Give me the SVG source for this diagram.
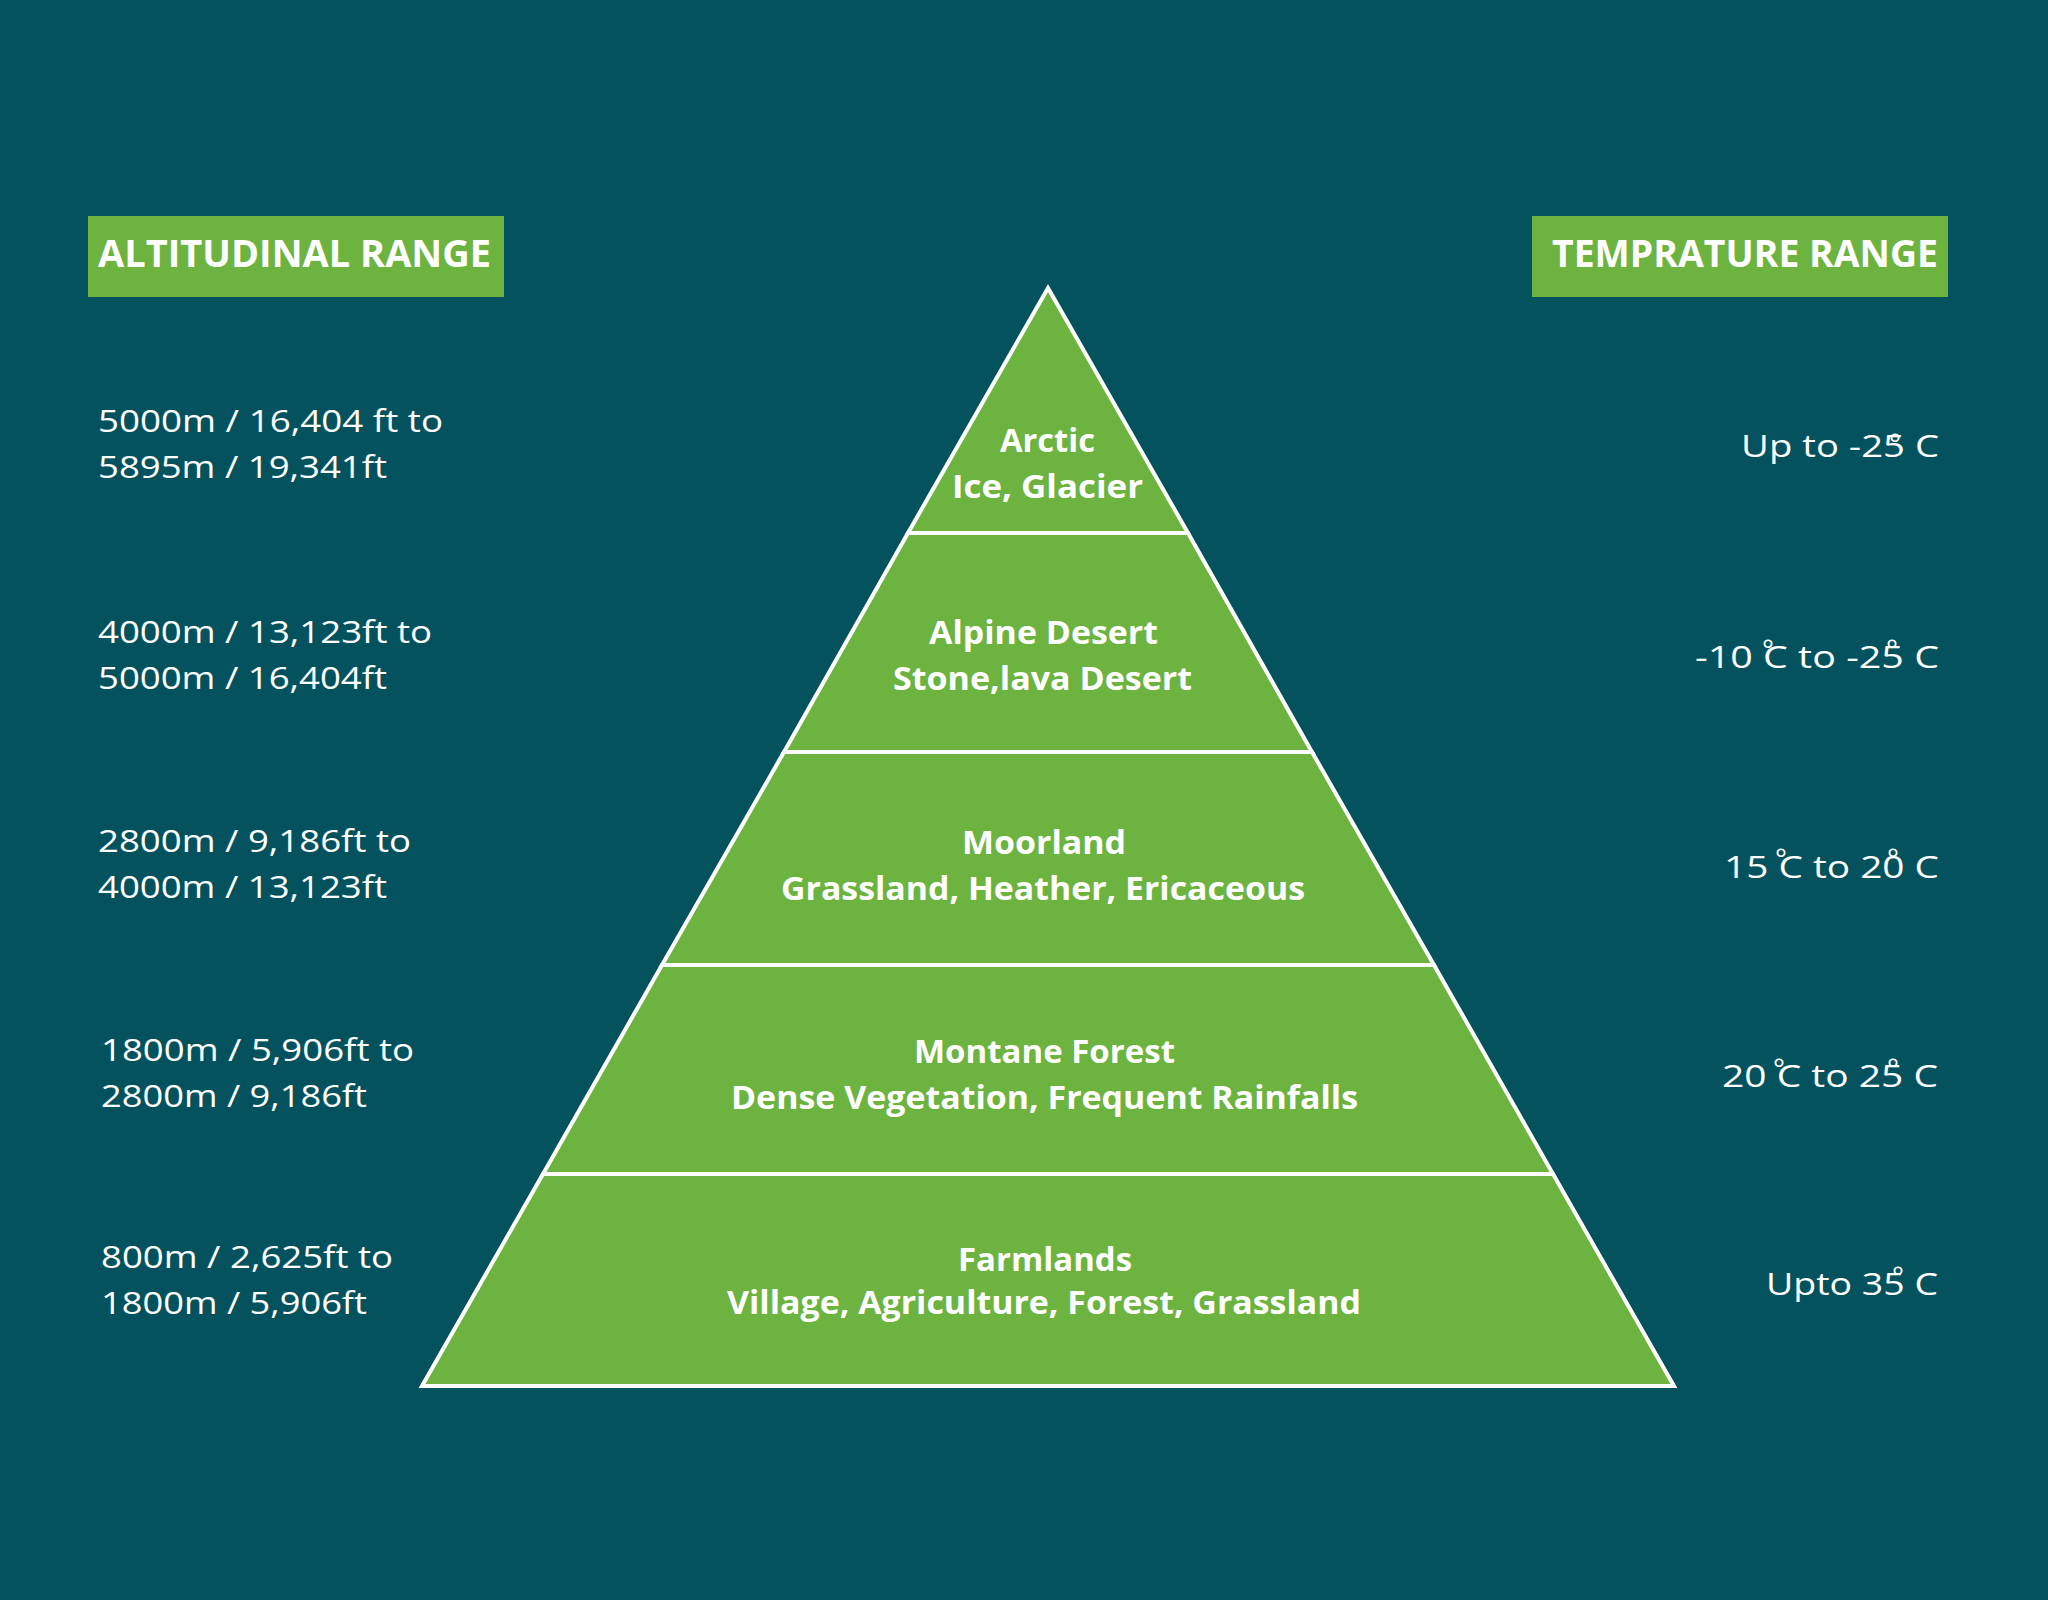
<svg xmlns="http://www.w3.org/2000/svg" width="2048" height="1600" viewBox="0 0 2048 1600">
<style>
.lbl{font-family:"Open Sans","Noto Sans","Liberation Sans",sans-serif;font-size:31px;fill:#ffffff}
.hdr{font-family:"Open Sans","Noto Sans","Liberation Sans",sans-serif;font-size:37px;font-weight:bold;fill:#ffffff}
.zone{font-family:"Open Sans","Noto Sans","Liberation Sans",sans-serif;font-size:32px;font-weight:bold;fill:#ffffff}
.seg{fill:#6cb33f;stroke:#ffffff;stroke-width:4;stroke-linejoin:miter}
.deg{font-family:"Open Sans","Noto Sans","Liberation Sans",sans-serif;font-size:28px;fill:#ffffff;text-anchor:middle}
</style>
<rect width="2048" height="1600" fill="#03525d"/>
<g id="header-altitude">
<rect x="88" y="216" width="416" height="81" fill="#6cb33f"/>
<text class="hdr" x="98" y="267" textLength="393" lengthAdjust="spacingAndGlyphs">ALTITUDINAL RANGE</text>
</g>
<g id="header-temperature">
<rect x="1532" y="216" width="416" height="81" fill="#6cb33f"/>
<text class="hdr" x="1552" y="267" textLength="386" lengthAdjust="spacingAndGlyphs">TEMPRATURE RANGE</text>
</g>
<g id="pyramid">
<g id="zone-arctic">
<polygon class="seg" points="1048,288 1188,533 908,533"/>
<text class="zone" x="1000" y="452" textLength="95" lengthAdjust="spacingAndGlyphs">Arctic</text>
<text class="zone" x="952" y="498" textLength="191" lengthAdjust="spacingAndGlyphs">Ice, Glacier</text>
</g>
<g id="zone-alpine">
<polygon class="seg" points="908,533 1188,533 1312,752 784,752"/>
<text class="zone" x="929" y="644" textLength="229" lengthAdjust="spacingAndGlyphs">Alpine Desert</text>
<text class="zone" x="893" y="690" textLength="299" lengthAdjust="spacingAndGlyphs">Stone,lava Desert</text>
</g>
<g id="zone-moorland">
<polygon class="seg" points="784,752 1312,752 1434,965 662,965"/>
<text class="zone" x="962" y="854" textLength="164" lengthAdjust="spacingAndGlyphs">Moorland</text>
<text class="zone" x="781" y="900" textLength="524" lengthAdjust="spacingAndGlyphs">Grassland, Heather, Ericaceous</text>
</g>
<g id="zone-montane">
<polygon class="seg" points="662,965 1434,965 1553,1174 543,1174"/>
<text class="zone" x="914" y="1063" textLength="261" lengthAdjust="spacingAndGlyphs">Montane Forest</text>
<text class="zone" x="731" y="1109" textLength="627" lengthAdjust="spacingAndGlyphs">Dense Vegetation, Frequent Rainfalls</text>
</g>
<g id="zone-farmlands">
<polygon class="seg" points="543,1174 1553,1174 1674,1386 422,1386"/>
<text class="zone" x="958" y="1271" textLength="174" lengthAdjust="spacingAndGlyphs">Farmlands</text>
<text class="zone" x="727" y="1314" textLength="634" lengthAdjust="spacingAndGlyphs">Village, Agriculture, Forest, Grassland</text>
</g>
</g>
<g id="altitudes">
<g id="alt-1"><text class="lbl" x="98" y="432" textLength="345" lengthAdjust="spacingAndGlyphs">5000m / 16,404 ft to</text><text class="lbl" x="98" y="478" textLength="289" lengthAdjust="spacingAndGlyphs">5895m / 19,341ft</text></g>
<g id="alt-2"><text class="lbl" x="98" y="643" textLength="334" lengthAdjust="spacingAndGlyphs">4000m / 13,123ft to</text><text class="lbl" x="98" y="689" textLength="289" lengthAdjust="spacingAndGlyphs">5000m / 16,404ft</text></g>
<g id="alt-3"><text class="lbl" x="98" y="852" textLength="313" lengthAdjust="spacingAndGlyphs">2800m / 9,186ft to</text><text class="lbl" x="98" y="898" textLength="289" lengthAdjust="spacingAndGlyphs">4000m / 13,123ft</text></g>
<g id="alt-4"><text class="lbl" x="101" y="1061" textLength="313" lengthAdjust="spacingAndGlyphs">1800m / 5,906ft to</text><text class="lbl" x="101" y="1107" textLength="266" lengthAdjust="spacingAndGlyphs">2800m / 9,186ft</text></g>
<g id="alt-5"><text class="lbl" x="101" y="1268" textLength="292" lengthAdjust="spacingAndGlyphs">800m / 2,625ft to</text><text class="lbl" x="101" y="1314" textLength="266" lengthAdjust="spacingAndGlyphs">1800m / 5,906ft</text></g>
</g>
<g id="temperatures">
<g id="temp-1"><text class="lbl" x="1741" y="457" textLength="198" lengthAdjust="spacingAndGlyphs">Up to -25 C</text><text class="deg" x="1895" y="454">°</text></g>
<g id="temp-2"><text class="lbl" x="1695" y="668" textLength="244" lengthAdjust="spacingAndGlyphs">-10 C to -25 C</text><text class="deg" x="1768" y="660">°</text><text class="deg" x="1892" y="660">°</text></g>
<g id="temp-3"><text class="lbl" x="1724" y="878" textLength="215" lengthAdjust="spacingAndGlyphs">15 C to 20 C</text><text class="deg" x="1781" y="869">°</text><text class="deg" x="1893" y="869">°</text></g>
<g id="temp-4"><text class="lbl" x="1722" y="1087" textLength="216" lengthAdjust="spacingAndGlyphs">20 C to 25 C</text><text class="deg" x="1779" y="1079">°</text><text class="deg" x="1893" y="1079">°</text></g>
<g id="temp-5"><text class="lbl" x="1766" y="1295" textLength="172" lengthAdjust="spacingAndGlyphs">Upto 35 C</text><text class="deg" x="1898" y="1287">°</text></g>
</g>
</svg>
